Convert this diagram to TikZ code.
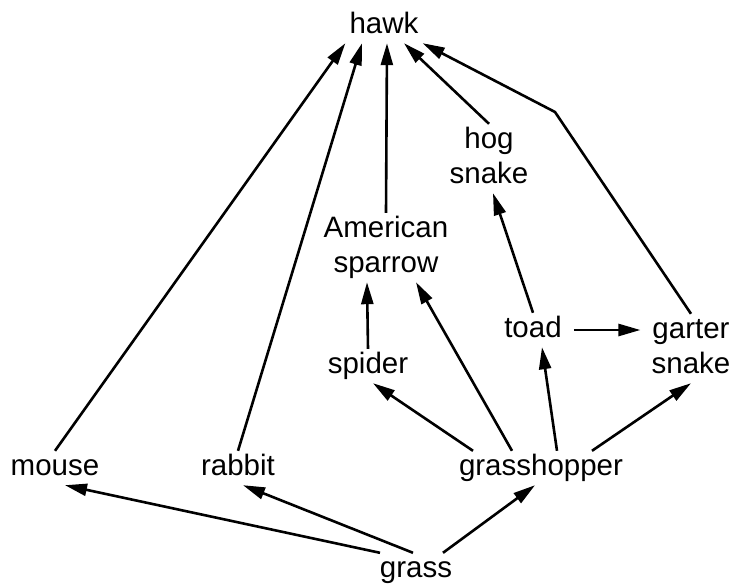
\documentclass[tikz,border=0pt]{standalone}
\usepackage{fontspec}
\setmainfont{Liberation Sans}
\usetikzlibrary{arrows.meta}
\tikzset{
	animal/.style={font=\fontsize{29.5}{35}\selectfont, inner sep=4pt, text height=20pt, text depth=6pt, anchor=base},
	animaltwo/.style={animal, align=center, text height=55pt},
	eats/.style={-{Triangle[length=22pt,width=12pt]}, line width=2.6pt},
}
\begin{document}
\begin{tikzpicture}[x=1pt,y=-1pt]
	\useasboundingbox (0,0) rectangle (732,584);
	% food web, positions at (last) text baselines
	\node[animal] (hawk) at (384,33) {hawk};
	\node[animaltwo] (hog) at (489,183) {hog\\snake};
	\node[animaltwo] (sparrow) at (386,272) {American\\sparrow};
	\node[animal] (toad) at (533,337) {toad};
	\node[animaltwo] (garter) at (691,373) {garter\\snake};
	\node[animal] (spider) at (368,373) {spider};
	\node[animal] (mouse) at (55,475) {mouse};
	\node[animal] (rabbit) at (238,475) {rabbit};
	\node[animal] (grasshopper) at (541,475) {grasshopper};
	\node[animal] (grass) at (416,577) {grass};
	\coordinate (bend) at (555,112);
	% eaten by the grass eaters
	\draw[eats] ([xshift=-36]grass.north) -- ([xshift=10]mouse.south);
	\draw[eats] ([xshift=-3]grass.north) -- ([xshift=5]rabbit.south);
	\draw[eats] ([xshift=27]grass.north) -- ([xshift=-6]grasshopper.south);
	% grasshopper
	\draw[eats] ([xshift=-68]grasshopper.north) -- ([xshift=5]spider.south);
	\draw[eats] ([xshift=-29]grasshopper.north) -- ([xshift=30]sparrow.south);
	\draw[eats] ([xshift=16]grasshopper.north) -- ([xshift=9]toad.south);
	\draw[eats] ([xshift=51]grasshopper.north) -- (garter.south);
	% middle
	\draw[eats] (spider.north) -- ([xshift=-19]sparrow.south);
	\draw[eats, shorten >=7pt] ([xshift=8]toad.east) -- (toad.east -| garter.west);
	\draw[eats] (toad.north) -- ([xshift=4]hog.south);
	% up to the hawk
	\draw[eats] (mouse.north) -- (hawk.south west);
	\draw[eats] (rabbit.north) -- ([xshift=-22]hawk.south);
	\draw[eats] (sparrow.north) -- ([xshift=3]hawk.south);
	\draw[eats] (hog.north) -- ([xshift=20]hawk.south);
	\draw[eats] (garter.north) -- (bend) -- (hawk.south east);
\end{tikzpicture}
\end{document}
